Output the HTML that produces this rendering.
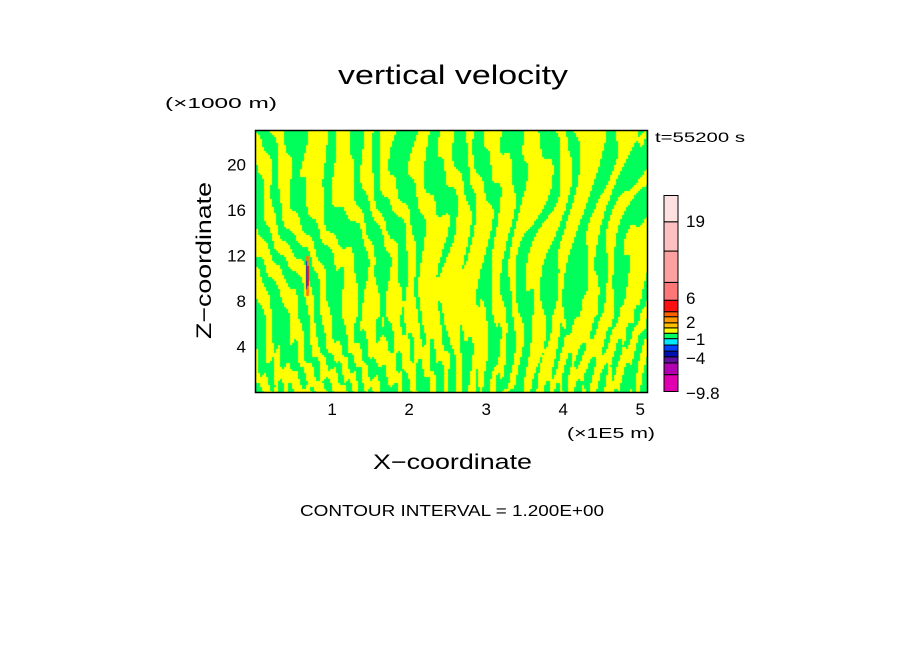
<!DOCTYPE html>
<html><head><meta charset="utf-8">
<style>
body{margin:0;background:#fff;}
#root{position:relative;width:904px;height:654px;overflow:hidden;font-family:"Liberation Sans",sans-serif;color:#000;}
</style></head>
<body>
<div id="root">
<svg id="svg" width="904" height="654" style="position:absolute;left:0;top:0">
  <text x="338" y="84" textLength="230" lengthAdjust="spacingAndGlyphs" font-size="27" font-family="Liberation Sans, sans-serif">vertical velocity</text>
  <text x="165" y="108" textLength="112" lengthAdjust="spacingAndGlyphs" font-size="15" font-family="Liberation Sans, sans-serif">(×1000 m)</text>
  <text x="655" y="142" textLength="90" lengthAdjust="spacingAndGlyphs" font-size="14" font-family="Liberation Sans, sans-serif">t=55200 s</text>
  <text x="567" y="438" textLength="88" lengthAdjust="spacingAndGlyphs" font-size="15" font-family="Liberation Sans, sans-serif">(×1E5 m)</text>
  <text x="373" y="469" textLength="159" lengthAdjust="spacingAndGlyphs" font-size="21" font-family="Liberation Sans, sans-serif">X−coordinate</text>
  <text x="132" y="262" textLength="157" lengthAdjust="spacingAndGlyphs" font-size="21" font-family="Liberation Sans, sans-serif" transform="rotate(-90 210 261)">Z−coordinate</text>
  <text x="300" y="516" textLength="304" lengthAdjust="spacingAndGlyphs" font-size="16" font-family="Liberation Sans, sans-serif">CONTOUR INTERVAL = 1.200E+00</text>
  <g id="xt"></g><g id="yt"></g><g id="cb"></g>
  <foreignObject x="256" y="131" width="392" height="261"><canvas id="cv" width="392" height="261" xmlns="http://www.w3.org/1999/xhtml"></canvas></foreignObject>
  <rect x="255.5" y="130.5" width="392" height="262" fill="none" stroke="#000" stroke-width="1.5"/>
</svg>
</div>
<script>
const xTicks=[1,2,3,4,5];
const yTicks=[4,8,12,16,20];
const cbColors=["#e000b0","#b000b0","#6010a0","#0010b0","#0040ff","#00e8ff","#00ff60","#ffff00","#ffc000","#ff9900","#ff6000","#ff1010","#fc7878","#fca0a0","#fcc0c0","#fde0e0"];
const cbWeights=[50,35,18,17,18,19,16,16,15,18,15,34,53,93,87,78];
const cbLabels=["−9.8","−4","−1","2","6","19"];
const cbLabelY=[393,358,339,322,298,221];
const X0=255,X1=648,Y0=392,Y1=130,XMAX=5.1,YMAX=23.05;
const sx=v=>X0+(v/XMAX)*(X1-X0), sy=v=>Y0-(v/YMAX)*(Y0-Y1);
const NS="http://www.w3.org/2000/svg";
const xt=document.getElementById('xt'), yt=document.getElementById('yt'), cb=document.getElementById('cb');
xTicks.forEach(v=>{const t=document.createElementNS(NS,'text');t.setAttribute('x',sx(v));t.setAttribute('y',415);t.setAttribute('text-anchor','middle');t.setAttribute('font-size','17');t.setAttribute('font-family','Liberation Sans, sans-serif');t.textContent=v;


xt.appendChild(t);});
yTicks.forEach(v=>{const t=document.createElementNS(NS,'text');t.setAttribute('x',246);t.setAttribute('y',sy(v)+6);t.setAttribute('text-anchor','end');t.setAttribute('font-size','17');t.setAttribute('font-family','Liberation Sans, sans-serif');t.textContent=v;


yt.appendChild(t);});
const cbTop=195.5,cbBot=391.5,tot=cbWeights.reduce((a,b)=>a+b,0);
let yy=cbBot;
cbColors.forEach((c,i)=>{const h=cbWeights[i]/tot*(cbBot-cbTop);yy-=h;const r=document.createElementNS(NS,'rect');r.setAttribute('x',664);r.setAttribute('y',yy);r.setAttribute('width',14);r.setAttribute('height',h);r.setAttribute('fill',c);r.setAttribute('stroke','#000');r.setAttribute('stroke-width','1');


cb.appendChild(r);});
cbLabels.forEach((l,i)=>{const t=document.createElementNS(NS,'text');t.setAttribute('x',686);t.setAttribute('y',cbLabelY[i]+6);t.setAttribute('font-size','17');t.setAttribute('font-family','Liberation Sans, sans-serif');t.textContent=l;


cb.appendChild(t);});
const cv=document.getElementById('cv'),ctx=cv.getContext('2d');
const W=392,H=261;
for(let y=0;y<H;y+=2){for(let x=0;x<W;x+=2){
 const px=x+256,py=y+131;
 const ang=Math.atan2(px-470,760-py);
 const warp=1.8*Math.sin(py*0.043+px*0.017)+1.1*Math.sin(px*0.061-py*0.021)+0.7*Math.sin(px*0.13+py*0.011)+0.5*Math.sin(px*0.29+py*0.09);
 let v=Math.sin(ang*140+warp);
 v+=0.8*Math.sin(px*0.55+1.5*Math.sin(py*0.07)+0.8*Math.sin(px*0.09))*Math.max(0,(py-240)/140);
 v+=0.35*Math.sin(px*0.027+py*0.031)+0.25*Math.sin(px*0.011-py*0.05);
 const dc=Math.hypot((px-455)/55,(py-290)/95);
 if(dc<1) v+=1.0*(1-dc);
 const dc2=Math.hypot((px-410)/45,(py-360)/35);
 if(dc2<1) v+=0.9*(1-dc2);
 ctx.fillStyle=v>0?'#ffff00':'#00ff5a';
 ctx.fillRect(x,y,2,2);
}}
ctx.fillStyle='#ff8000';ctx.fillRect(50,125,3,40);
ctx.fillStyle='#ff1010';ctx.fillRect(51,135,2,20);
ctx.fillStyle='#2020d0';ctx.fillRect(50,130,1,28);
</script>
</body></html>
